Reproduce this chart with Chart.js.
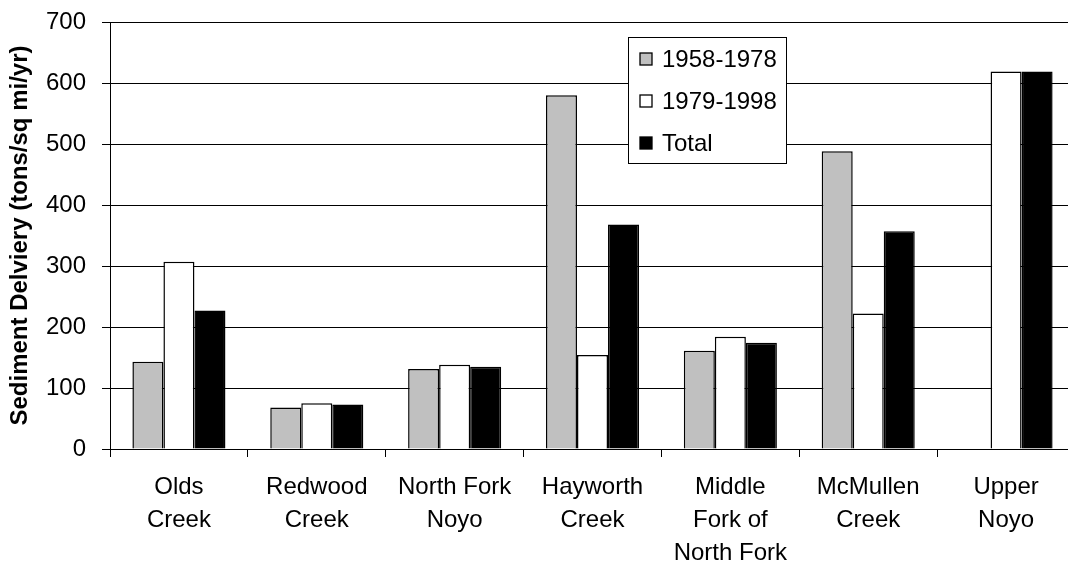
<!DOCTYPE html>
<html>
<head>
<meta charset="utf-8">
<script src="https://cdn.jsdelivr.net/npm/chart.js@4"></script>
<style>
  html, body { margin: 0; padding: 0; background: #fff; overflow: hidden; }
  #wrap { width: 1075px; height: 566px; position: relative; }
</style>
</head>
<body>
<div id="wrap"><canvas id="sedChart"></canvas></div>
<script>
// ---------------- data ----------------
const creeks = [
  ["Olds", "Creek"],
  ["Redwood", "Creek"],
  ["North Fork", "Noyo"],
  ["Hayworth", "Creek"],
  ["Middle", "Fork of", "North Fork"],
  ["McMullen", "Creek"],
  ["Upper", "Noyo"]
];
const period1 = [143, 68, 131, 580, 161, 488, null];   // 1958-1978
const period2 = [307, 75, 138, 154, 184, 222, 619];    // 1979-1998
const totals  = [227, 73, 135, 368, 174, 357, 619];    // Total
const yTicks = [0, 100, 200, 300, 400, 500, 600, 700];

const FONT = "Arial, 'Liberation Sans', sans-serif";

// legend drawn inside the plot, like the original
const boxLegend = {
  id: 'boxLegend',
  afterDraw(chart) {
    const c = chart.ctx;
    const x = 628.5, y = 37.5, w = 158, h = 126;
    c.save();
    c.fillStyle = '#fff';
    c.fillRect(x, y, w, h);
    c.strokeStyle = '#000';
    c.lineWidth = 1;
    c.strokeRect(x, y, w, h);
    c.font = '24px ' + FONT;
    c.textBaseline = 'middle';
    chart.data.datasets.forEach((ds, i) => {
      const cy = 59 + i * 42;
      c.fillStyle = ds.backgroundColor;
      c.fillRect(640, cy - 6, 12, 12);
      c.strokeStyle = '#000';
      c.lineWidth = 1.3;
      c.strokeRect(640, cy - 6, 12, 12);
      c.fillStyle = '#000';
      c.fillText(ds.label, 662, cy + 1);
    });
    c.restore();
  }
};

const ctx = document.getElementById('sedChart').getContext('2d');
let sedChart = new Chart(ctx, {
  type: 'bar',
  data: {
    labels: creeks,
    datasets: [
      {
        label: "1958-1978",
        data: period1,
        backgroundColor: '#C0C0C0',
        borderColor: '#000',
        borderWidth: 1.5
      },
      {
        label: "1979-1998",
        data: period2,
        backgroundColor: '#FFFFFF',
        borderColor: '#000',
        borderWidth: 1.5
      },
      {
        label: "Total",
        data: totals,
        backgroundColor: '#000000',
        borderColor: '#000',
        borderWidth: 1.5
      }
    ]
  },
  options: {
    responsive: true,
    maintainAspectRatio: false,
    animation: false,
    layout: { padding: { top: 22, right: 0, left: 0, bottom: 0 } },
    datasets: {
      bar: { categoryPercentage: 0.675, barPercentage: 1.0 }
    },
    plugins: {
      legend: { display: false },
      tooltip: { enabled: false }
    },
    scales: {
      x: {
        grid: {
          drawOnChartArea: false,
          drawTicks: true,
          tickLength: 8,
          color: '#000',
          offset: true
        },
        border: { color: '#000', width: 1 },
        ticks: {
          color: '#000',
          font: { family: FONT, size: 24, lineHeight: 1.38 },
          padding: 14,
          maxRotation: 0,
          autoSkip: false
        },
        afterFit(scale) {
          scale.height = 117;
          scale.paddingLeft = 0;
          scale.paddingRight = 0;
        }
      },
      y: {
        min: 0,
        max: 700,
        afterBuildTicks(scale) { scale.ticks = yTicks.map(v => ({ value: v })); },
        grid: {
          color: '#000',
          lineWidth: 1,
          tickLength: 8
        },
        border: { color: '#000', width: 1 },
        ticks: {
          color: '#000',
          font: { family: FONT, size: 24 },
          padding: 16
        },
        title: {
          display: true,
          text: 'Sediment Delviery (tons/sq mi/yr)',
          color: '#000',
          font: { family: FONT, size: 24, weight: 'bold' },
          padding: { top: 6, bottom: 0 }
        },
        afterFit(scale) {
          scale.width = 110;
          scale.paddingTop = 0;
          scale.paddingBottom = 0;
        }
      }
    }
  },
  plugins: [boxLegend]
});
</script>
</body>
</html>
